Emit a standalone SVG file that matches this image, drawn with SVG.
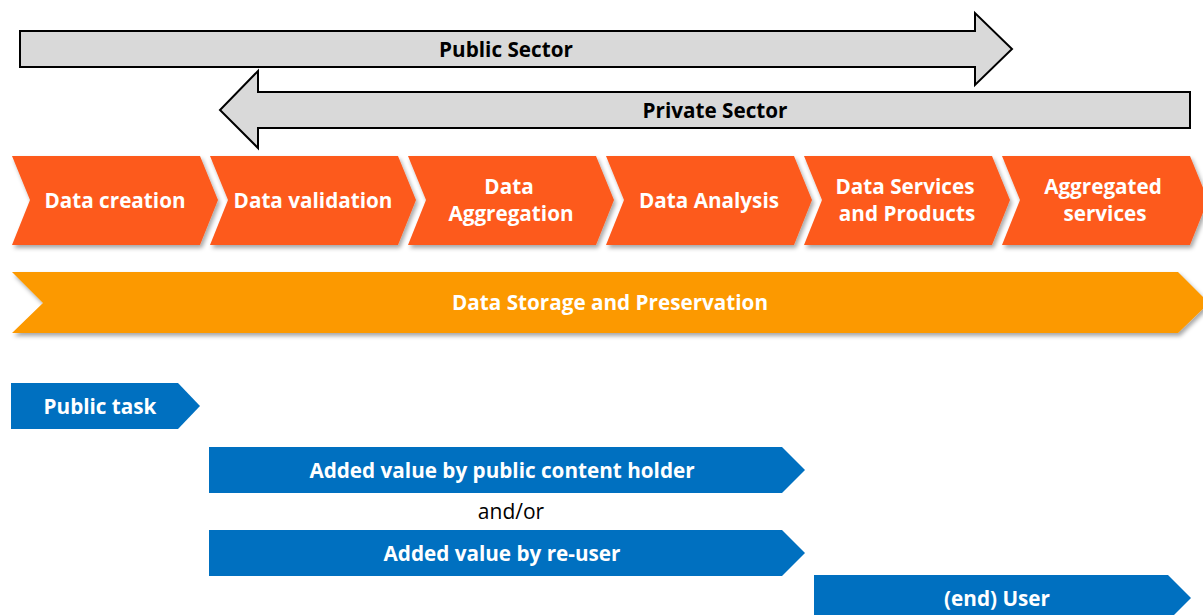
<svg xmlns="http://www.w3.org/2000/svg" width="1203" height="615" viewBox="0 0 1203 615">
<style>
.gray{fill:#D9D9D9;stroke:#000;stroke-width:2;stroke-linejoin:miter}
.chev{fill:#FD5A1C;filter:url(#sh)}
.store{fill:#FC9900;filter:url(#sh)}
.blue{fill:#0070C0}
text{font-family:"Open Sans","Liberation Sans",sans-serif;font-weight:bold;font-size:20.7px;text-anchor:middle;dominant-baseline:central}
.w{fill:#fff}
.k{fill:#000}
.reg{font-weight:normal;font-size:21px}
</style>
<defs>
<filter id="sh" x="-5%" y="-10%" width="110%" height="130%">
<feDropShadow dx="2" dy="3" stdDeviation="2" flood-color="#000" flood-opacity="0.35"/>
</filter>
</defs>
<g id="public-sector">
<polygon class="gray" points="20,31 975,31 975,13 1012,49 975,85 975,67 20,67"/>
<text class="k" x="506" y="49">Public Sector</text>
</g>
<g id="private-sector">
<polygon class="gray" points="1190,92 258,92 258,71 220,110 258,148 258,128 1190,128"/>
<text class="k" x="715" y="110">Private Sector</text>
</g>
<g id="data-creation">
<polygon class="chev" points="12,156 200,156 218,200 200,245 12,245 30,200"/>
<text class="w" x="115" y="200">Data creation</text>
</g>
<g id="data-validation">
<polygon class="chev" points="210,156 398,156 416,200 398,245 210,245 228,200"/>
<text class="w" x="313" y="200">Data validation</text>
</g>
<g id="data-aggregation">
<polygon class="chev" points="408,156 596,156 614,200 596,245 408,245 426,200"/>
<text class="w" x="509" y="186">Data</text>
<text class="w" x="511" y="213">Aggregation</text>
</g>
<g id="data-analysis">
<polygon class="chev" points="606,156 794,156 812,200 794,245 606,245 624,200"/>
<text class="w" x="709" y="200">Data Analysis</text>
</g>
<g id="data-services">
<polygon class="chev" points="804,156 992,156 1010,200 992,245 804,245 822,200"/>
<text class="w" x="905" y="186">Data Services</text>
<text class="w" x="907" y="213">and Products</text>
</g>
<g id="aggregated-services">
<polygon class="chev" points="1002,156 1190,156 1208,200 1190,245 1002,245 1020,200"/>
<text class="w" x="1103" y="186">Aggregated</text>
<text class="w" x="1105" y="213">services</text>
</g>
<g id="data-storage">
<polygon class="store" points="12,272 1178,272 1209,303 1178,333 12,333 43,303"/>
<text class="w" x="610" y="302">Data Storage and Preservation</text>
</g>
<g id="public-task">
<polygon class="blue" points="11,383 178,383 200,406 178,429 11,429"/>
<text class="w" x="100" y="406">Public task</text>
</g>
<g id="added-value-public">
<polygon class="blue" points="209,447 782,447 805,470 782,493 209,493"/>
<text class="w" x="502" y="470">Added value by public content holder</text>
</g>
<g id="and-or">
<text class="k reg" x="511" y="511">and/or</text>
</g>
<g id="added-value-reuser">
<polygon class="blue" points="209,530 782,530 805,553 782,576 209,576"/>
<text class="w" x="502" y="553">Added value by re-user</text>
</g>
<g id="end-user">
<polygon class="blue" points="814,575 1168,575 1191,598 1168,621 814,621"/>
<text class="w" x="997" y="598">(end) User</text>
</g>
<g id="connectors"></g>
</svg>
